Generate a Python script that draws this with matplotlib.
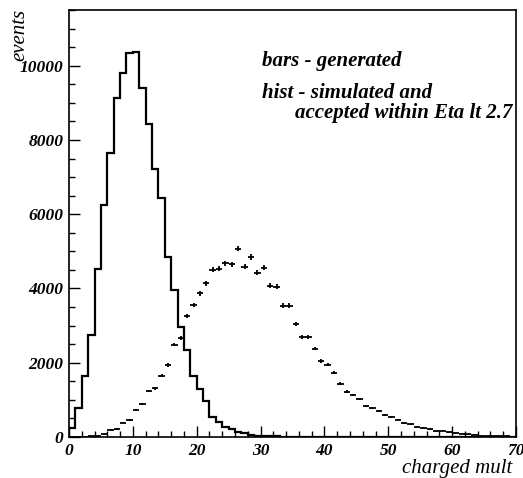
import numpy as np
import matplotlib
matplotlib.use("Agg")
import matplotlib.pyplot as plt
from matplotlib.ticker import MultipleLocator

# bin edges: 70 unit bins in charged multiplicity
edges = np.arange(0, 71)

# solid step histogram
hist_counts = [240, 790, 1650, 2760, 4530, 6260, 7660, 9140, 9790, 10340,
               10360, 9410, 8420, 7210, 6440, 4860, 3970, 2970, 2340, 1650,
               1290, 980, 550, 410, 280, 210, 145, 100, 55, 40,
               30, 20, 15, 10, 8, 5, 4, 3, 2, 1,
               0, 0, 0, 0, 0, 0, 0, 0, 0, 0,
               0, 0, 0, 0, 0, 0, 0, 0, 0, 0,
               0, 0, 0, 0, 0, 0, 0, 0, 0, 0]

# crosses with error bars
bar_counts = [0, 0, 5, 15, 35, 70, 190, 215, 385, 460,
              730, 880, 1240, 1310, 1650, 1940, 2490, 2670, 3260, 3550,
              3870, 4140, 4510, 4530, 4680, 4650, 5070, 4580, 4850, 4430,
              4560, 4080, 4050, 3540, 3540, 3040, 2700, 2700, 2380, 2050,
              1950, 1730, 1430, 1220, 1130, 1030, 830, 770, 700, 590,
              550, 470, 370, 340, 280, 250, 215, 160, 170, 125,
              100, 80, 70, 60, 40, 30, 25, 20, 15, 10]

x_ticks = [0, 10, 20, 30, 40, 50, 60, 70]
y_ticks = [0, 2000, 4000, 6000, 8000, 10000]

plt.rcParams['font.family'] = ['Liberation Serif', 'DejaVu Serif']

fig = plt.figure(figsize=(5.23, 4.78), dpi=100)
ax = fig.add_axes([69/523, 41/478, 447/523, 427/478])

centers = (edges[:-1] + edges[1:]) / 2.0
bars = np.array(bar_counts, dtype=float)

ax.stairs(hist_counts, edges, color='black', lw=1.6)
ax.errorbar(centers, bars, xerr=0.5, yerr=np.sqrt(bars), fmt='none',
            ecolor='black', elinewidth=1.3, capsize=0)

ax.set_xlim(0, 70)
ax.set_ylim(0, 11500)
ax.set_xticks(x_ticks)
ax.set_yticks(y_ticks)
ax.xaxis.set_minor_locator(MultipleLocator(2))
ax.yaxis.set_minor_locator(MultipleLocator(500))
ax.tick_params(which='both', direction='in', top=False, right=False, width=1)
ax.tick_params(which='major', length=8, pad=4)
ax.tick_params(which='minor', length=4)
for lab in ax.get_xticklabels() + ax.get_yticklabels():
    lab.set_fontstyle('italic')
    lab.set_fontweight('bold')
    lab.set_fontsize(12.5)
for sp in ax.spines.values():
    sp.set_linewidth(1.2)

fig.text(512/523, 1 - 469/478, 'charged mult', ha='right', va='center',
         fontsize=15, style='italic')
fig.text(20/523, 1 - 9/478, 'events', ha='center', va='top', rotation=90,
         fontsize=15, style='italic')

ax.text(0.431, 0.869, 'bars - generated', transform=ax.transAxes,
        fontsize=15, style='italic', weight='bold', va='baseline')
ax.text(0.431, 0.793, 'hist - simulated and', transform=ax.transAxes,
        fontsize=15, style='italic', weight='bold', va='baseline')
ax.text(0.505, 0.746, 'accepted within Eta lt 2.7', transform=ax.transAxes,
        fontsize=15, style='italic', weight='bold', va='baseline')

fig.savefig('out.png', dpi=100)
